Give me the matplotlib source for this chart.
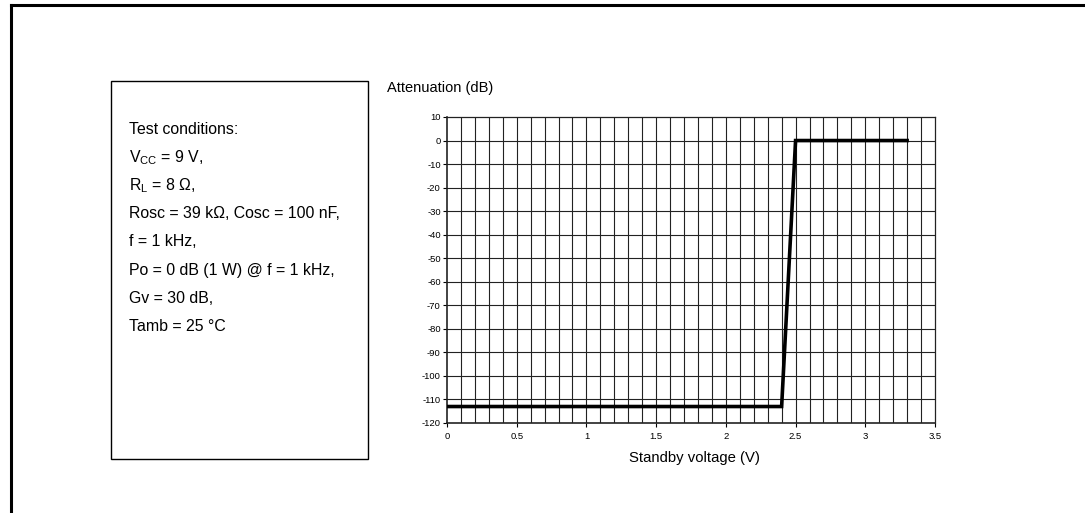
import matplotlib
matplotlib.use("Agg")
import matplotlib.pyplot as plt
from matplotlib.lines import Line2D
from matplotlib.patches import Rectangle

plt.rcParams['font.family'] = ['Liberation Sans', 'DejaVu Sans']
plt.rcParams['mathtext.fontset'] = 'custom'
plt.rcParams['mathtext.rm'] = 'Liberation Sans'
plt.rcParams['axes.unicode_minus'] = False

# curve: attenuation vs standby voltage
voltage = [0.0, 2.4, 2.5, 3.3]
attenuation = [-113, -113, 0, 0]

x_ticks = [0, 0.5, 1, 1.5, 2, 2.5, 3, 3.5]
x_tick_labels = ['0', '0.5', '1', '1.5', '2', '2.5', '3', '3.5']
y_ticks = list(range(10, -121, -10))

conditions = [
    'Test conditions:',
    r'V$_{\mathregular{CC}}$ = 9 V,',
    r'R$_{\mathregular{L}}$ = 8 Ω,',
    'Rosc = 39 kΩ, Cosc = 100 nF,',
    'f = 1 kHz,',
    'Po = 0 dB (1 W) @ f = 1 kHz,',
    'Gv = 30 dB,',
    'Tamb = 25 °C',
]

W, H = 1085, 513
fig = plt.figure(figsize=(W / 100, H / 100), dpi=100)

def fx(px):
    return px / W

def fy(py):
    return 1 - py / H

# outer frame (top and left edges)
fig.add_artist(Line2D([fx(11), fx(11)], [fy(5), 0], color='black', lw=2.2))
fig.add_artist(Line2D([fx(11), 1], [fy(5), fy(5)], color='black', lw=2.2))

# test conditions box
fig.add_artist(Rectangle((fx(111), fy(459)), fx(368) - fx(111), fy(81) - fy(459),
                         fill=False, edgecolor='black', lw=1.0))
for i, line in enumerate(conditions):
    fig.text(fx(129), fy(129 + i * 28.2), line, fontsize=11.4, va='center', ha='left')

# chart
ax = fig.add_axes([fx(447), fy(423), fx(935) - fx(447), fy(117) - fy(423)])
ax.set_xlim(0, 3.5)
ax.set_ylim(-120, 10)

# grid: every 0.1 V and every 10 dB
for i in range(1, 35):
    ax.axvline(i * 0.1, color='#222222', lw=0.8, zorder=1)
for v in y_ticks[1:-1]:
    ax.axhline(v, color='#222222', lw=0.8, zorder=1)

ax.plot(voltage, attenuation, color='black', lw=2.6, zorder=3, solid_joinstyle='miter')

ax.set_xticks(x_ticks)
ax.set_xticklabels(x_tick_labels)
ax.set_yticks(y_ticks)
ax.tick_params(axis='both', labelsize=6.8, length=3, width=0.8, direction='out', pad=1.5)
ax.tick_params(axis='x', pad=3.5)
for s in ax.spines.values():
    s.set_linewidth(0.9)
    s.set_color('#222222')
ax.spines['left'].set_linewidth(1.2)
ax.spines['bottom'].set_linewidth(1.2)

fig.text(fx(387), fy(88), 'Attenuation (dB)', fontsize=10.5, va='center', ha='left')
fig.text(fx(694), fy(458), 'Standby voltage (V)', fontsize=10.7, va='center', ha='center')

fig.savefig('out.png', dpi=100)
